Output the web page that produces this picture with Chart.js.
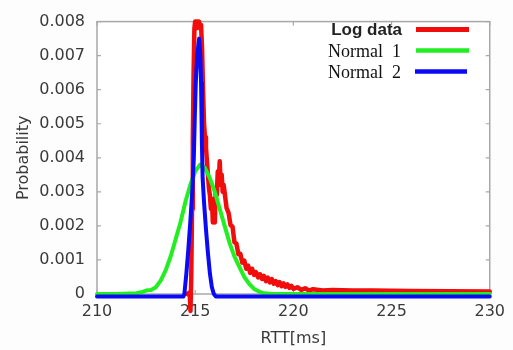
<!DOCTYPE html>
<html>
<head>
<meta charset="utf-8">
<script src="https://cdn.jsdelivr.net/npm/chart.js@4.4.1/dist/chart.umd.min.js"></script>
<style>
html,body{margin:0;padding:0;background:#fdfdfd;}
#wrap{position:relative;width:513px;height:350px;}
</style>
</head>
<body>
<div id="wrap"><canvas id="c" width="513" height="350"></canvas></div>
<script>
// ---- data ----
const xTicks = [210, 215, 220, 225, 230];
const yTicks = [0, 0.001, 0.002, 0.003, 0.004, 0.005, 0.006, 0.007, 0.008];
const seriesNames = ['Log data', 'Normal  1', 'Normal  2'];

const rttLog = [214.6, 214.72, 214.76, 214.8, 214.84, 214.88, 214.92, 214.96, 215.0, 215.05, 215.1, 215.15, 215.2, 215.25, 215.3, 215.35, 215.4, 215.45, 215.5, 215.55, 215.6, 215.65, 215.7, 215.75, 215.8, 215.85, 215.9, 215.95, 216.0, 216.05, 216.1, 216.15, 216.2, 216.25, 216.3, 216.35, 216.4, 216.45,
  216.5, 216.6, 216.7, 216.8, 216.9, 217.0, 217.1, 217.2, 217.3, 217.4, 217.5, 217.6, 217.7, 217.8, 217.9, 218.0, 218.1, 218.2, 218.3, 218.4, 218.5, 218.6, 218.7, 218.8, 218.9, 219.0, 219.1, 219.2, 219.3, 219.4, 219.5, 219.6, 219.7, 219.8, 219.9, 220.0, 220.2, 220.4, 220.6, 220.8, 221.0, 221.5, 222.0, 223.0, 224.0, 226.0, 228.0, 230.0];
const probLog = [0, 0.00005, -0.0005, 0.0005, 0.0025, 0.0045, 0.0065, 0.0078, 0.008, 0.0078, 0.008, 0.0079, 0.008, 0.0078, 0.0079, 0.0072, 0.006, 0.005, 0.0046, 0.0043, 0.0039, 0.0035, 0.0031, 0.0029, 0.0025, 0.0028, 0.0021, 0.0023, 0.0021, 0.0031, 0.0029, 0.0036, 0.0033, 0.0039, 0.0032, 0.0035, 0.003, 0.0032,
  0.00298, 0.00252, 0.00238, 0.00202, 0.00198, 0.00152, 0.00148, 0.00117, 0.00118, 0.00092, 0.00098, 0.00074, 0.00083, 0.00062, 0.00074, 0.00056, 0.00064, 0.00049, 0.00058, 0.00044, 0.00053, 0.00038, 0.00048, 0.00034, 0.00044, 0.0003, 0.00038, 0.00026, 0.00035, 0.00023, 0.00031, 0.00021, 0.00028, 0.00018, 0.00024, 0.00015, 0.0002, 0.00012, 0.00017, 0.0001, 0.00014, 0.0001, 0.00012, 0.0001, 0.0001, 0.00009, 0.00008, 0.00007];

const rttN1 = [210, 211, 212, 212.25, 212.5, 212.75, 213, 213.25, 213.5, 213.75, 214, 214.25, 214.5, 214.75, 215, 215.25, 215.5, 215.75, 216, 216.25, 216.5, 216.75, 217, 217.25, 217.5, 217.75, 218, 218.25, 218.5, 219, 230];
const probN1 = [0, 0, 0.00002, 0.00005, 0.0001, 0.00012, 0.0002, 0.0004, 0.0007, 0.0011, 0.0016, 0.0021, 0.0027, 0.0032, 0.0036, 0.0038, 0.0037, 0.0034, 0.003, 0.0025, 0.002, 0.0015, 0.0011, 0.0008, 0.0005, 0.0003, 0.00015, 0.00007, 0.00002, 0, 0];

const rttN2 = [210, 214.4, 214.45, 214.55, 214.65, 214.75, 214.85, 214.93, 214.98, 215.03, 215.1, 215.2, 215.26, 215.3, 215.34, 215.38, 215.45, 215.55, 215.65, 215.75, 215.85, 215.95, 216.05, 230];
const probN2 = [-0.00007, -0.00007, 0, 0.0006, 0.0013, 0.0021, 0.003, 0.004, 0.0052, 0.0062, 0.007, 0.0075, 0.007, 0.0062, 0.0045, 0.0034, 0.0027, 0.0019, 0.0012, 0.0006, 0.0002, 0, -0.00007, -0.00007];

const colors = ['#f20d0d', '#22ee22', '#0a0af5'];

const pts = (xs, ys) => xs.map((x, i) => ({x: x, y: ys[i]}));

const boxPlugin = {
  id: 'box',
  beforeDatasetsDraw(chart) {
    const {ctx, chartArea: a} = chart;
    const xs = chart.scales.x, ys = chart.scales.y;
    ctx.save();
    ctx.fillStyle = '#ffffff';
    ctx.fillRect(a.left, a.top, a.right - a.left, a.bottom - a.top);
    ctx.strokeStyle = '#a8a8a8';
    ctx.lineWidth = 1.5;
    ctx.strokeRect(a.left, a.top, a.right - a.left, a.bottom - a.top);
    ctx.lineWidth = 1.2;
    ctx.beginPath();
    xTicks.forEach(v => {
      const px = xs.getPixelForValue(v);
      ctx.moveTo(px, a.bottom); ctx.lineTo(px, a.bottom - 4);
      ctx.moveTo(px, a.top); ctx.lineTo(px, a.top + 4);
    });
    yTicks.forEach(v => {
      const py = ys.getPixelForValue(v);
      ctx.moveTo(a.left, py); ctx.lineTo(a.left + 4, py);
      ctx.moveTo(a.right, py); ctx.lineTo(a.right - 4, py);
    });
    ctx.stroke();
    ctx.restore();
  },
  afterDatasetsDraw(chart) {
    const ctx = chart.ctx;
    ctx.save();
    ctx.textAlign = 'right';
    ctx.textBaseline = 'alphabetic';
    ctx.fillStyle = '#222';
    ctx.font = 'bold 17px "Liberation Sans", Arial, sans-serif';
    ctx.fillText(seriesNames[0], 402, 35);
    ctx.fillStyle = '#111';
    ctx.font = '18px "Liberation Serif", "Times New Roman", serif';
    ctx.fillText(seriesNames[1], 401, 57);
    ctx.fillText(seriesNames[2], 401, 78);
    const ly = [29.5, 50.5, 71.5];
    const lx = [[416, 469], [416, 469], [415, 467]];
    for (let i = 0; i < 3; i++) {
      ctx.strokeStyle = colors[i];
      ctx.lineWidth = i === 0 ? 5 : 4.5;
      ctx.beginPath();
      ctx.moveTo(lx[i][0], ly[i]);
      ctx.lineTo(lx[i][1], ly[i]);
      ctx.stroke();
    }
    ctx.restore();
  }
};

const lineStyle = {pointRadius: 0, tension: 0, clip: false, borderJoinStyle: 'round', borderCapStyle: 'round', fill: false};

new Chart(document.getElementById('c'), {
  type: 'line',
  data: {
    datasets: [
      Object.assign({label: seriesNames[0], data: pts(rttLog, probLog), borderColor: colors[0], borderWidth: 4.5, order: 3}, lineStyle),
      Object.assign({label: seriesNames[1], data: pts(rttN1, probN1), borderColor: colors[1], borderWidth: 4, order: 2}, lineStyle),
      Object.assign({label: seriesNames[2], data: pts(rttN2, probN2), borderColor: colors[2], borderWidth: 4, order: 1}, lineStyle)
    ]
  },
  options: {
    responsive: false,
    animation: false,
    layout: {padding: {top: 16, right: 20, left: 0, bottom: 0}},
    plugins: {legend: {display: false}, tooltip: {enabled: false}},
    scales: {
      x: {
        type: 'linear', min: 210, max: 230,
        afterBuildTicks: s => { s.ticks = xTicks.map(v => ({value: v})); },
        afterFit: s => { s.height = 56; },
        grid: {display: false, drawTicks: false},
        border: {display: false},
        ticks: {padding: 8, color: '#3a3a3a', font: {family: 'DejaVu Sans', size: 16}, maxRotation: 0},
        title: {display: true, text: 'RTT[ms]', color: '#3a3a3a', font: {family: 'DejaVu Sans', size: 16}, padding: {top: 0, bottom: 2}}
      },
      y: {
        min: 0, max: 0.008,
        afterBuildTicks: s => { s.ticks = yTicks.map(v => ({value: v})); },
        afterFit: s => { s.width = 97; },
        grid: {display: false, drawTicks: false},
        border: {display: false},
        ticks: {padding: 12, color: '#3a3a3a', font: {family: 'DejaVu Sans', size: 16},
          callback: v => v === 0 ? '0' : v.toFixed(3)},
        title: {display: true, text: 'Probability', color: '#3a3a3a', font: {family: 'DejaVu Sans', size: 16}, padding: {top: 14, bottom: 0}}
      }
    }
  },
  plugins: [boxPlugin]
});
</script>
</body>
</html>
